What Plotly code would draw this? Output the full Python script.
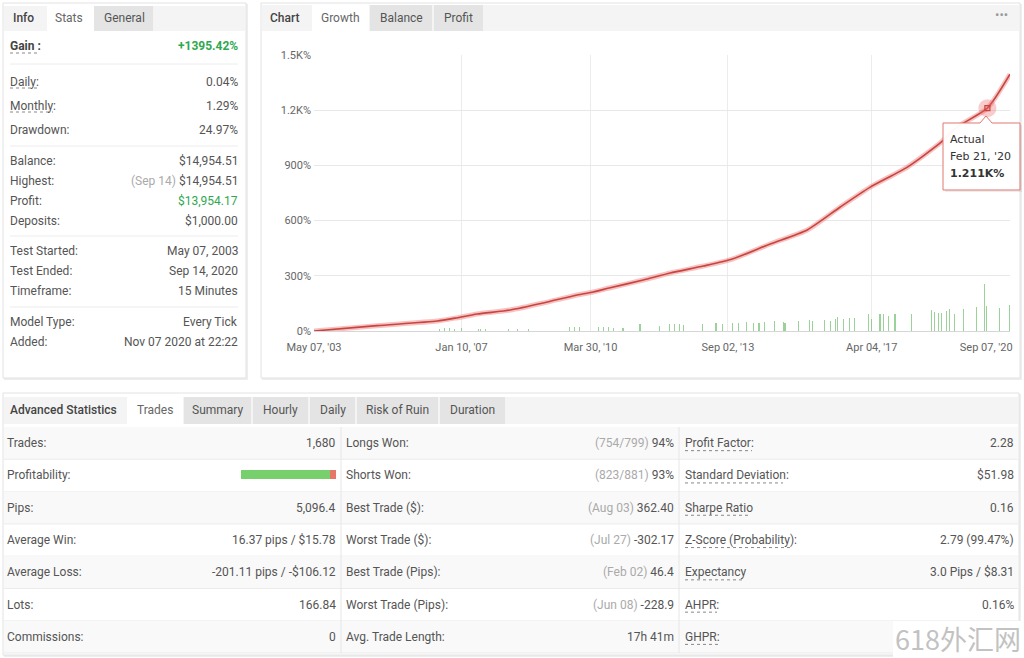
import plotly.graph_objects as go

W, H = 1024, 658

# ---------------- data ----------------
growth_dates = ["2003-05-07", "2004-12-01", "2006-06-02", "2006-11-13", "2007-06-01",
                "2008-03-28", "2009-01-23", "2009-11-28", "2010-04-23", "2010-09-25",
                "2011-07-23", "2012-03-25", "2013-01-20", "2013-10-11", "2014-09-22",
                "2015-08-25", "2016-06-21", "2017-03-21", "2018-02-22", "2018-12-19",
                "2019-05-23", "2020-02-21", "2020-09-14"]
growth_values = [0, 29, 54, 70, 92, 114, 152, 196, 212, 235, 277, 315, 353, 391, 473,
                 549, 674, 782, 891, 1022, 1109, 1211, 1395.42]

bar_dates = ["2006-06-20", "2006-08-05", "2006-09-20", "2006-11-05", "2007-01-10",
             "2007-06-10", "2007-07-05", "2007-08-20", "2008-03-10", "2008-06-05",
             "2008-09-10", "2009-09-20", "2009-11-05", "2009-12-20", "2010-06-10",
             "2010-07-25", "2010-09-10", "2010-10-25", "2011-01-20", "2011-06-23",
             "2011-12-20", "2012-03-22", "2012-05-06", "2012-06-20", "2012-07-20",
             "2013-01-16", "2013-05-16", "2013-07-15", "2013-10-17", "2013-12-03",
             "2014-02-20", "2014-04-24", "2014-06-11", "2014-07-28", "2014-10-31",
             "2015-01-18", "2015-02-03", "2015-06-09", "2015-09-12", "2015-10-14",
             "2016-02-02", "2016-03-20", "2016-05-06", "2016-05-23", "2016-07-24",
             "2016-09-10", "2016-10-27", "2017-03-03", "2017-04-04", "2017-06-18",
             "2017-07-19", "2017-09-02", "2017-11-01", "2018-04-02", "2018-09-30",
             "2018-10-30", "2018-11-30", "2018-12-30", "2019-02-13", "2019-03-15",
             "2019-04-30", "2019-07-15", "2019-11-12", "2020-01-27", "2020-02-11",
             "2020-06-11", "2020-09-07"]
bar_values = [13, 14, 14, 13, 14, 11, 11, 9, 11, 9,
              9, 22, 22, 20, 20, 20, 20, 18, 14, 36,
              27, 36, 36, 36, 33, 36, 45, 40, 45, 45,
              49, 45, 45, 49, 54, 51, 45, 54, 60, 54,
              62, 54, 63, 76, 67, 69, 69, 94, 63, 94,
              90, 81, 94, 90, 112, 105, 100, 100, 109, 118,
              94, 118, 130, 254, 136, 127, 141]

x_tick_dates = ["2003-05-07", "2007-01-10", "2010-03-30", "2013-09-02", "2017-04-04", "2020-09-07"]
x_tick_labels = ["May 07, '03", "Jan 10, '07", "Mar 30, '10", "Sep 02, '13", "Apr 04, '17", "Sep 07, '20"]
y_tick_vals = [0, 300, 600, 900, 1200, 1500]
y_tick_labels = ["0%", "300%", "600%", "900%", "1.2K%", "1.5K%"]

tooltip_series = "Actual"
tooltip_date = "2020-02-21"
tooltip_date_label = "Feb 21, '20"
tooltip_value = 1211
tooltip_value_label = "1.211K%"

left_labels = ["Gain :", "Daily:", "Monthly:", "Drawdown:", "Balance:", "Highest:", "Profit:",
               "Deposits:", "Test Started:", "Test Ended:", "Timeframe:", "Model Type:", "Added:"]
left_notes = ["", "", "", "", "", "(Sep 14)", "", "", "", "", "", "", ""]
left_values = ["+1395.42%", "0.04%", "1.29%", "24.97%", "$14,954.51", "$14,954.51", "$13,954.17",
               "$1,000.00", "May 07, 2003", "Sep 14, 2020", "15 Minutes", "Every Tick",
               "Nov 07 2020 at 22:22"]

col1_labels = ["Trades:", "Profitability:", "Pips:", "Average Win:", "Average Loss:", "Lots:", "Commissions:"]
col1_values = ["1,680", "", "5,096.4", "16.37 pips / $15.78", "-201.11 pips / -$106.12", "166.84", "0"]
col2_labels = ["Longs Won:", "Shorts Won:", "Best Trade ($):", "Worst Trade ($):",
               "Best Trade (Pips):", "Worst Trade (Pips):", "Avg. Trade Length:"]
col2_notes = ["(754/799)", "(823/881)", "(Aug 03)", "(Jul 27)", "(Feb 02)", "(Jun 08)", ""]
col2_values = ["94%", "93%", "362.40", "-302.17", "46.4", "-228.9", "17h 41m"]
col3_labels = ["Profit Factor:", "Standard Deviation:", "Sharpe Ratio", "Z-Score (Probability):",
               "Expectancy", "AHPR:", "GHPR:"]
col3_values = ["2.28", "$51.98", "0.16", "2.79 (99.47%)", "3.0 Pips / $8.31", "0.16%", ""]

trades_total = 1680
longs_won = 754
shorts_won = 823

# ---------------- helpers ----------------
def px(x):
    return x / W

def py(y):
    return 1 - y / H

shapes = []
annotations = []

def rect(x0, y0, x1, y1, fill, line=None, layer="below"):
    shapes.append(dict(type="rect", xref="paper", yref="paper",
                       x0=px(x0), x1=px(x1), y0=py(y1), y1=py(y0),
                       fillcolor=fill, layer=layer,
                       line=dict(color=line if line else "rgba(0,0,0,0)", width=1 if line else 0)))

def hline(x0, x1, y, color, dash="solid", layer="below"):
    shapes.append(dict(type="line", xref="paper", yref="paper",
                       x0=px(x0), x1=px(x1), y0=py(y), y1=py(y), layer=layer,
                       line=dict(color=color, width=1, dash=dash)))

def vline(x, y0, y1, color):
    shapes.append(dict(type="line", xref="paper", yref="paper",
                       x0=px(x), x1=px(x), y0=py(y0), y1=py(y1), layer="below",
                       line=dict(color=color, width=1)))

def text(x, y, s, anchor="left", color="#555", size=12, family="Roboto", weight="normal"):
    annotations.append(dict(xref="paper", yref="paper", x=px(x), y=py(y), text=s,
                            showarrow=False, xanchor=anchor, yanchor="middle",
                            borderpad=0, borderwidth=0,
                            font=dict(family=family, size=size, color=color, weight=weight)))

def poly(points, fill, line=None, layer="above"):
    d = "M " + " L ".join(f"{px(x):.5f},{py(y):.5f}" for x, y in points) + " Z"
    shapes.append(dict(type="path", path=d, xref="paper", yref="paper", layer=layer,
                       fillcolor=fill,
                       line=dict(color=line if line else "rgba(0,0,0,0)", width=1 if line else 0)))

def panel(x0, y0, x1, y1):
    rect(x0 + 1, y0 + 1, x1 + 2, y1 + 2, "#eeeeee")
    rect(x0, y0, x1, y1, "#ffffff", "#e2e2e2")

# ---------------- panels ----------------
panel(3, 3, 246, 378)
panel(261, 3, 1020, 378)
panel(3, 393, 1019, 655)

# left panel tabs
rect(4, 6, 245, 31, "#f4f4f4")
rect(47, 6, 94, 31, "#ffffff")
rect(94, 6, 153, 31, "#e4e4e4")
text(23, 18, "Info", "center", "#444", 12, weight=500)
text(69, 18, "Stats", "center", "#666", 12)
text(124, 18, "General", "center", "#555", 12)

# right panel tabs
rect(262, 5, 1019, 31, "#f4f4f4")
rect(312, 5, 369, 31, "#ffffff")
rect(370, 5, 432, 31, "#e4e4e4")
rect(434, 5, 483, 31, "#e4e4e4")
text(285, 18, "Chart", "center", "#444", 12, weight=500)
text(340, 18, "Growth", "center", "#666", 12)
text(401, 18, "Balance", "center", "#555", 12)
text(458, 18, "Profit", "center", "#555", 12)
text(1001, 15, "•••", "center", "#9a9a9a", 13)

# bottom panel tabs
rect(4, 397, 1018, 424, "#f4f4f4")
rect(127, 397, 183, 424, "#ffffff")
tab_spans = [(184, 251, "Summary"), (253, 308, "Hourly"), (310, 355, "Daily"),
             (357, 438, "Risk of Ruin"), (440, 505, "Duration")]
for a, b, name in tab_spans:
    rect(a, 397, b, 424, "#e4e4e4")
    text((a + b) / 2, 410, name, "center", "#555", 12)
text(63, 410, "Advanced Statistics", "center", "#444", 12, weight=500)
text(155, 410, "Trades", "center", "#666", 12)

# ---------------- left panel content ----------------
left_y = [46, 82, 106, 130, 161, 181, 201, 221, 251, 271, 291, 322, 342]
for i, (lab, note, val) in enumerate(zip(left_labels, left_notes, left_values)):
    y = left_y[i]
    if i == 0:
        text(10, y, lab, "left", "#444", 12, weight="bold")
        text(238, y, val, "right", "#2fa84f", 12, weight="bold")
    else:
        text(10, y, lab, "left", "#555", 12)
        col = "#2fa84f" if lab == "Profit:" else "#555"
        s = val if not note else "<span style='color:#aaaaaa'>" + note + "</span> " + val
        text(238, y, s, "right", col, 12)
underlines_left = [(10, 39, 53), (10, 38, 88), (10, 53, 112)]
for a, b, y in underlines_left:
    hline(a, b, y, "#888", "dot", "above")
for y in [64, 146, 236, 307]:
    hline(10, 238, y, "#ececec")

# ---------------- bottom table ----------------
row_tops = [427, 459.3, 491.6, 523.9, 556.2, 588.5, 620.8, 653]
for i in range(7):
    if i % 2 == 0:
        rect(4, row_tops[i], 1018, row_tops[i + 1], "#f9f9f9")
    hline(4, 1018, row_tops[i + 1], "#ebebeb")
vline(341, 427, 653, "#e6e6e6")
vline(679, 427, 653, "#e6e6e6")
u3_widths = [67, 98, 64, 106, 58, 32, 33]
for i in range(7):
    yc = (row_tops[i] + row_tops[i + 1]) / 2
    text(7, yc, col1_labels[i], "left", "#555", 12)
    if col1_values[i]:
        text(336, yc, col1_values[i], "right", "#555", 12)
    text(346, yc, col2_labels[i], "left", "#555", 12)
    s = col2_values[i]
    if col2_notes[i]:
        s = "<span style='color:#aaaaaa'>" + col2_notes[i] + "</span> " + s
    text(674, yc, s, "right", "#555", 12)
    text(685, yc, col3_labels[i], "left", "#555", 12)
    if col3_values[i]:
        text(1014, yc, col3_values[i], "right", "#555", 12)
    hline(685, 685 + u3_widths[i], yc + 7.5, "#888", "dot", "above")

# watermark box
rect(893, 621, 1024, 658, "#ffffff", layer="above")
text(958, 638, "618外汇网", "center", "#c2c2c2", 27, family="Noto Sans CJK SC")

# ---------------- tooltip box (callout) ----------------
poly([(945, 125), (1022, 125), (1022, 192), (945, 192)], "rgba(0,0,0,0.07)")
poly([(943, 123), (980, 123), (986, 116), (992, 123), (1020, 123), (1020, 190), (943, 190)],
     "rgba(255,255,255,0.97)", "#e0786f")
for s, dy in [(tooltip_series, -31), (tooltip_date_label, -48), ("<b>" + tooltip_value_label + "</b>", -65)]:
    annotations.append(dict(xref="x", yref="y", x=tooltip_date, y=tooltip_value, text=s,
                            showarrow=False, xanchor="left", yanchor="middle",
                            xshift=-37, yshift=dy, borderpad=0, borderwidth=0,
                            font=dict(family="DejaVu Sans", size=11, color="#333")))

# ---------------- traces ----------------
fig = go.Figure()
fig.add_trace(go.Bar(x=bar_dates, y=bar_values, width=9.0e8,
                     marker=dict(color="rgba(120,195,120,0.75)", line=dict(width=0)),
                     xaxis="x", yaxis="y", showlegend=False, hoverinfo="skip"))
fig.add_trace(go.Scatter(x=growth_dates, y=growth_values, mode="lines",
                         line=dict(color="rgba(235,120,120,0.45)", width=5,
                                   shape="spline", smoothing=0.6),
                         showlegend=False, hoverinfo="skip"))
fig.add_trace(go.Scatter(x=growth_dates, y=growth_values, mode="lines",
                         line=dict(color="#c8453f", width=1.6, shape="spline", smoothing=0.6),
                         showlegend=False))
fig.add_trace(go.Scatter(x=[tooltip_date], y=[tooltip_value], mode="markers",
                         marker=dict(size=18, color="rgba(235,110,110,0.35)"),
                         showlegend=False, hoverinfo="skip"))
fig.add_trace(go.Scatter(x=[tooltip_date], y=[tooltip_value], mode="markers",
                         marker=dict(size=5, symbol="square-open", color="#c8453f",
                                     line=dict(width=1.2, color="#c8453f")),
                         showlegend=False, hoverinfo="skip"))
# empty trace that carries the overlay axis for the last (shifted) date label
fig.add_trace(go.Scatter(x=[], y=[], xaxis="x3", yaxis="y", showlegend=False, hoverinfo="skip"))

won_pct = (longs_won + shorts_won) / trades_total * 100
fig.add_trace(go.Bar(x=[won_pct], y=[0], orientation="h", xaxis="x2", yaxis="y2",
                     marker=dict(color="#78d06c", line=dict(width=0)), showlegend=False))
fig.add_trace(go.Bar(x=[100 - won_pct], y=[0], orientation="h", xaxis="x2", yaxis="y2",
                     marker=dict(color="#e8776b", line=dict(width=0)), showlegend=False))

main_ticktext = x_tick_labels[:-1] + [""]
tickfont = dict(family="Roboto", size=11, color="#666")
x_common = dict(type="date", domain=[px(314), px(1010)], range=["2003-05-07", "2020-09-14"],
                automargin=False, ticks="", ticklabelstandoff=8, tickfont=tickfont,
                zeroline=False, showline=False, fixedrange=True)

fig.update_layout(
    template="none",
    width=W, height=H, margin=dict(l=0, r=0, t=0, b=0, pad=0, autoexpand=False),
    paper_bgcolor="#ffffff", plot_bgcolor="rgba(0,0,0,0)",
    barmode="stack", bargap=0, showlegend=False,
    font=dict(family="Roboto", size=12, color="#555"),
    shapes=shapes, annotations=annotations,
    xaxis=dict(**x_common, tickvals=x_tick_dates, ticktext=main_ticktext,
               showgrid=True, gridcolor="#ececec", gridwidth=1),
    xaxis3=dict(**x_common, tickvals=x_tick_dates[-1:], ticktext=x_tick_labels[-1:],
                overlaying="x", anchor="y", showgrid=False, ticklabelshift=-23),
    yaxis=dict(domain=[py(331), py(55)], range=[0, 1500], tickvals=y_tick_vals,
               ticktext=y_tick_labels, showgrid=True, gridcolor="#e8e8e8", gridwidth=1,
               automargin=False,
               zeroline=True, zerolinecolor="#d6d6d6", zerolinewidth=1, showline=False,
               ticks="", ticklabelstandoff=2, tickfont=tickfont, fixedrange=True),
    xaxis2=dict(domain=[px(241), px(336)], range=[0, 100], visible=False, anchor="y2",
                automargin=False, fixedrange=True),
    yaxis2=dict(domain=[py(479), py(470)], range=[-0.5, 0.5], visible=False, anchor="x2",
                automargin=False, fixedrange=True),
)

fig.write_html("out.html", config={"displayModeBar": False},
               post_script="document.body.style.margin='0';document.body.style.overflow='hidden';")
